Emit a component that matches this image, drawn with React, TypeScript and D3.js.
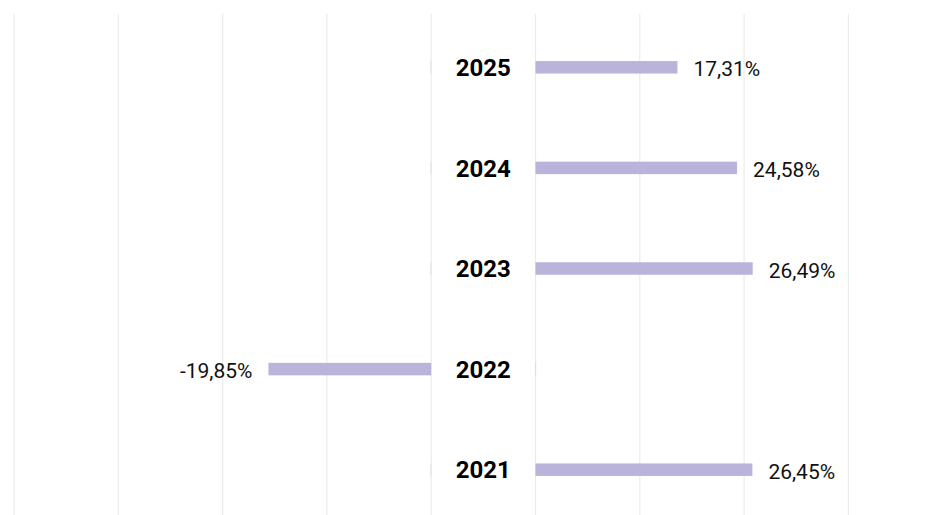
import React from "react";
import * as d3 from "d3";

const years = ["2025", "2024", "2023", "2022", "2021"];
const values = [17.31, 24.58, 26.49, -19.85, 26.45];
const gridStep = 12.72;
const posMax = 38.16;
const negMax = 50.88;

const W = 948;
const H = 515;

export default function App() {
  const xPos = d3.scaleLinear().domain([0, posMax]).range([535.5, 848.4]);
  const xNeg = d3.scaleLinear().domain([0, negMax]).range([431.2, 14]);
  const y = d3.scaleBand().domain(years).range([17, 520]).paddingInner(0).paddingOuter(0);
  const barH = 12.5;
  const fmt = (v: number) => v.toFixed(2).replace(".", ",") + "%";

  const posTicks = d3.range(0, posMax + 0.01, gridStep);
  const negTicks = d3.range(0, negMax + 0.01, gridStep);

  return (
    <svg
      width={W}
      height={H}
      style={{ position: "absolute", left: 0, top: 0, fontFamily: "Roboto, sans-serif" }}
    >
      <rect width={W} height={H} fill="#fff" />
      {posTicks.map((t, i) => (
        <line key={"p" + i} x1={xPos(t)} x2={xPos(t)} y1={14} y2={H} stroke="#ebebeb" strokeWidth={1.2} />
      ))}
      {negTicks.map((t, i) => (
        <line key={"n" + i} x1={xNeg(t)} x2={xNeg(t)} y1={14} y2={H} stroke="#ebebeb" strokeWidth={1.2} />
      ))}
      {years.map((yr, i) => {
        const v = values[i];
        const cy = (y(yr) as number) + y.bandwidth() / 2;
        const isPos = v >= 0;
        const x0 = isPos ? xPos(0) : xNeg(Math.abs(v));
        const x1 = isPos ? xPos(v) : xNeg(0);
        const zeroX = isPos ? xNeg(0) - 0.6 : xPos(0);
        return (
          <g key={yr}>
            <rect x={x0} y={cy - barH / 2} width={x1 - x0} height={barH} fill="#bbb4da" />
            <rect x={zeroX} y={cy - barH / 2} width={0.6} height={barH} fill="#bbb4da" opacity={0.5} />
            <text
              x={(xNeg(0) + xPos(0)) / 2}
              y={cy}
              dy="0.36em"
              textAnchor="middle"
              fontWeight="bold"
              fontSize={24}
              fill="#000"
            >
              {yr}
            </text>
            <text
              x={isPos ? x1 + 16 : x0 - 16}
              y={cy + 1.5}
              dy="0.36em"
              textAnchor={isPos ? "start" : "end"}
              fontSize={21}
              fill="#111"
            >
              {fmt(v)}
            </text>
          </g>
        );
      })}
    </svg>
  );
}
